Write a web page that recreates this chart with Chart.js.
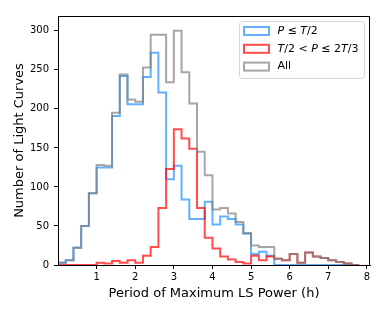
<!DOCTYPE html>
<html>
<head>
<meta charset="utf-8">
<script src="https://cdn.jsdelivr.net/npm/chart.js@4/dist/chart.umd.min.js"></script>
<style>
  html, body { margin: 0; padding: 0; background: #fff; }
  canvas { display: block; }
</style>
</head>
<body>
<canvas id="chart" width="390" height="312"></canvas>
<script>
// histogram bins (h), left edges + last right edge
const binEdges = [0.0, 0.2, 0.4, 0.6, 0.8, 1.0, 1.2, 1.4, 1.6, 1.8,
                  2.0, 2.2, 2.4, 2.6, 2.8, 3.0, 3.2, 3.4, 3.6, 3.8,
                  4.0, 4.2, 4.4, 4.6, 4.8, 5.0, 5.2, 5.4, 5.6, 5.8,
                  6.0, 6.2, 6.4, 6.6, 6.8, 7.0, 7.2, 7.4, 7.6, 7.8];

// counts per bin
const countsHalf = [0, 3, 6, 22, 50, 92, 125, 125, 191, 242,
                    206, 206, 241, 272, 221, 110, 127, 84, 59, 59,
                    81, 52, 62, 59, 52, 40, 14, 17, 12, 0,
                    0, 0, 0, 0, 0, 0, 0, 0, 0];
const countsTwoThirds = [0, 0, 0, 0, 0, 0, 3, 2, 5, 3,
                         6, 3, 12, 23, 73, 123, 174, 162, 149, 73,
                         35, 21, 11, 7, 4, 2, 12, 6, 11, 8,
                         6, 14, 3, 16, 11, 9, 6, 4, 2];
const countsAll = [0, 3, 6, 22, 50, 92, 128, 127, 195, 244,
                   212, 209, 253, 295, 295, 234, 300, 247, 207, 145,
                   115, 71, 73, 66, 55, 41, 25, 23, 23, 8,
                   6, 14, 3, 16, 11, 9, 6, 4, 2];

const seriesLabels = ['P ≤ T/2', 'T/2 < P ≤ 2T/3', 'All'];
const seriesColors = ['rgba(30,144,255,0.7)', 'rgba(255,0,0,0.7)', 'rgba(128,128,128,0.7)'];

const xTicks = [1, 2, 3, 4, 5, 6, 7, 8];
const yTicks = [0, 50, 100, 150, 200, 250, 300];

// turn bin counts into a step outline like histtype='step'
function stepPoints(counts) {
    let pts = [{x: binEdges[0], y: 0}];
    counts.forEach((c, i) => {
        pts.push({x: binEdges[i], y: c});
    });
    pts.push({x: binEdges[binEdges.length - 1], y: 0});
    return pts;
}

const FONT = "'DejaVu Sans', sans-serif";

// mixed italic text for the legend (P and T in italic like mathtext)
function drawRich(ctx, text, x, y, size) {
    let parts = text.split(/([PT])/).filter(s => s.length);
    let cx = x;
    parts.forEach(p => {
        let italic = (p === 'P' || p === 'T');
        ctx.font = (italic ? 'italic ' : '') + size + 'px ' + FONT;
        ctx.fillText(p, cx, y);
        cx += ctx.measureText(p).width;
    });
}

const framePlugin = {
    id: 'frame',
    afterDraw(chart) {
        const {ctx, chartArea: a} = chart;
        ctx.save();
        ctx.strokeStyle = '#000';
        ctx.lineWidth = 1;
        ctx.strokeRect(Math.round(a.left) + 0.5, Math.round(a.top) + 0.5,
                       Math.round(a.right - a.left) - 1, Math.round(a.bottom - a.top));
        ctx.restore();
    }
};

const legendPlugin = {
    id: 'boxLegend',
    afterDraw(chart) {
        const ctx = chart.ctx;
        const bx = 239.5, by = 21.5, bw = 125, bh = 57, r = 3;
        ctx.save();
        ctx.beginPath();
        ctx.roundRect(bx, by, bw, bh, r);
        ctx.fillStyle = 'rgba(255,255,255,0.8)';
        ctx.fill();
        ctx.strokeStyle = '#d6d6d6';
        ctx.lineWidth = 1;
        ctx.stroke();

        chart.data.datasets.forEach((ds, i) => {
            const cy = 31 + i * 17.8;
            ctx.fillStyle = '#fff';
            ctx.fillRect(244, cy - 4, 25, 8);
            ctx.strokeStyle = ds.borderColor;
            ctx.lineWidth = 2;
            ctx.strokeRect(244, cy - 4, 25, 8);
            ctx.fillStyle = '#000';
            ctx.textBaseline = 'middle';
            ctx.textAlign = 'left';
            drawRich(ctx, ds.label, 277.5, cy, 11);
        });
        ctx.restore();
    }
};

const tickFont = {family: FONT, size: 10};
const titleFont = {family: FONT, size: 13};

new Chart(document.getElementById('chart'), {
    type: 'line',
    data: {
        datasets: [0, 1, 2].map(i => ({
            label: seriesLabels[i],
            data: stepPoints([countsHalf, countsTwoThirds, countsAll][i]),
            borderColor: seriesColors[i],
            backgroundColor: seriesColors[i],
            borderWidth: 2,
            stepped: 'after',
            fill: false,
            pointRadius: 0,
            order: 2 - i
        }))
    },
    options: {
        responsive: false,
        animation: false,
        layout: {padding: {left: 0, right: 20, top: 16, bottom: 0}},
        plugins: {
            legend: {display: false},
            tooltip: {enabled: false}
        },
        scales: {
            x: {
                type: 'linear',
                min: 0,
                max: 8.08,
                afterBuildTicks: s => { s.ticks = xTicks.map(v => ({value: v})); },
                afterFit: s => { s.height = 47; },
                grid: {drawOnChartArea: false, drawTicks: true, tickLength: 4, tickColor: '#000', color: '#000'},
                border: {color: '#000', width: 1},
                ticks: {font: tickFont, color: '#000', padding: 2, maxRotation: 0, autoSkip: false},
                title: {display: true, text: 'Period of Maximum LS Power (h)', font: titleFont, color: '#000',
                        padding: {top: 0, bottom: 11}}
            },
            y: {
                min: 0,
                max: 319,
                afterBuildTicks: s => { s.ticks = yTicks.map(v => ({value: v})); },
                afterFit: s => { s.width = 58; },
                grid: {drawOnChartArea: false, drawTicks: true, tickLength: 4, tickColor: '#000', color: '#000'},
                border: {color: '#000', width: 1},
                ticks: {font: tickFont, color: '#000', padding: 5, autoSkip: false},
                title: {display: true, text: 'Number of Light Curves', font: titleFont, color: '#000',
                        padding: {top: 12, bottom: 0}}
            }
        }
    },
    plugins: [framePlugin, legendPlugin]
});
</script>
</body>
</html>
